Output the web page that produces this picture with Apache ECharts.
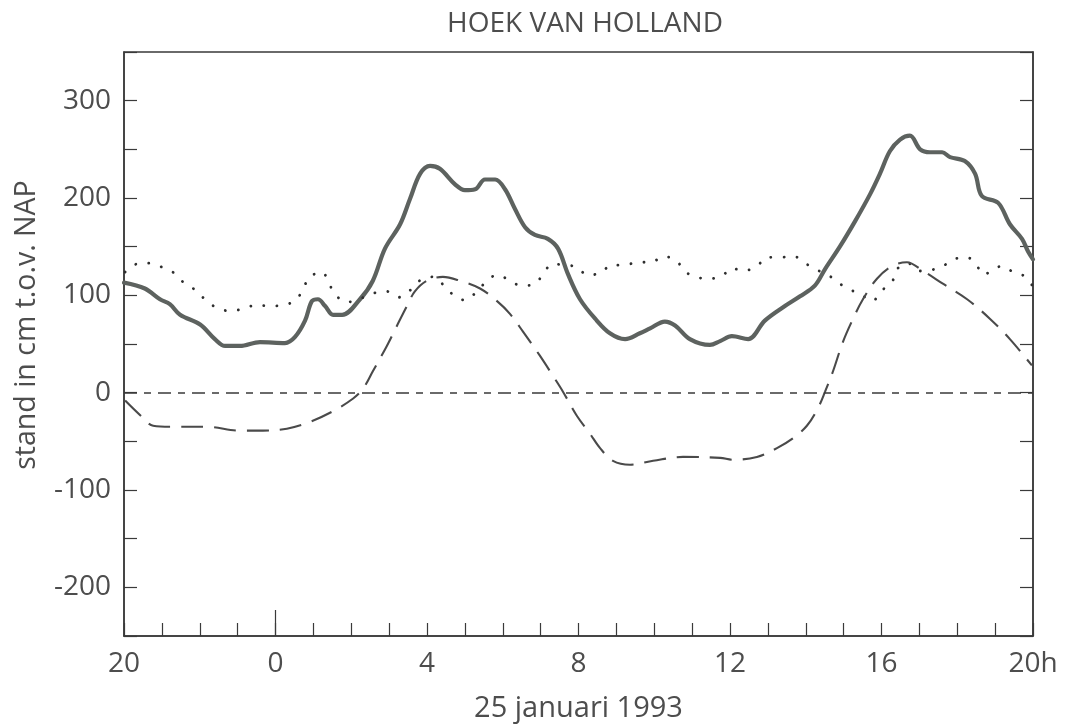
<!DOCTYPE html>
<html>
<head>
<meta charset="utf-8">
<script src="https://cdn.jsdelivr.net/npm/echarts@6/dist/echarts.min.js"></script>
<style>html,body{margin:0;padding:0;background:#fff}#c{width:1069px;height:728px}</style>
</head>
<body>
<div id="c"></div>
<script>
// hours relative to 0h on 25 januari 1993 (-4 = 20h on the 24th)
var solidHours = [-4.0,-3.45,-3.05,-2.79,-2.52,-1.99,-1.60,-1.33,-0.94,-0.41,0.25,0.51,0.78,0.96,1.12,1.31,1.52,1.76,2.23,2.57,2.89,3.29,3.55,3.82,4.08,4.34,4.74,5.00,5.27,5.53,5.80,6.06,6.32,6.59,6.85,7.19,7.46,7.72,8.04,8.44,8.83,9.23,9.62,9.89,10.28,10.55,10.94,11.47,11.74,12.05,12.48,12.92,13.45,13.85,14.24,14.51,14.90,15.30,15.70,15.96,16.22,16.49,16.75,17.02,17.28,17.60,17.81,18.20,18.47,18.65,19.08,19.39,19.71,19.87,20.0];
var solidValues = [113,107,96,91,80,70,55,48,48,52,51,57,74,94,96,89,80,80,96,115,148,173,199,225,233,230,214,208,209,219,219,209,189,170,162,158,148,122,96,76,61,55,61,66,73,69,55,49,53,58,55,74,89,99,110,127,150,176,204,225,248,260,264,250,247,247,242,238,225,202,195,173,158,145,137];

var dottedHours = [-3.97,-3.68,-3.34,-3.00,-2.68,-2.42,-2.10,-1.84,-1.54,-1.20,-0.86,-0.51,-0.17,0.20,0.54,0.73,0.91,1.23,1.41,1.62,1.89,2.20,2.57,2.94,3.26,3.58,3.84,4.16,4.45,4.71,5.00,5.32,5.56,5.85,6.16,6.48,6.80,7.06,7.30,7.96,8.22,8.59,8.86,9.20,9.57,9.91,10.26,10.60,10.79,11.10,11.42,11.79,12.05,12.34,12.71,12.98,13.32,13.69,13.98,14.30,14.59,14.85,15.17,15.49,15.75,16.01,16.28,16.41,16.70,16.99,17.31,17.62,17.91,18.26,18.52,18.71,18.94,19.21,19.47,19.76,20.0];
var dottedValues = [124,132,133,129,123,113,105,95,87,84,86,90,89,90,95,107,119,124,112,99,93,96,102,104,98,106,116,119,110,100,95,104,114,121,116,110,111,121,132,129,121,123,131,131,134,134,140,135,125,119,117,120,128,125,130,139,139,140,133,126,121,113,106,100,94,105,114,127,133,125,126,130,137,139,130,121,127,130,124,120,109];

var dashedHours = [-3.97,-3.52,-3.23,-2.73,-1.81,-0.94,-0.33,0.30,0.91,1.52,2.05,2.31,2.57,2.94,3.21,3.47,3.68,4.00,4.42,4.87,5.40,5.85,6.19,6.53,6.98,7.33,7.59,7.96,8.30,8.57,8.91,9.36,9.97,10.76,11.74,12.08,12.71,13.24,13.66,14.03,14.32,14.51,14.72,14.98,15.25,15.51,15.88,16.28,16.67,17.10,17.62,18.26,18.86,19.39,19.97];
var dashedValues = [-8,-25,-34,-35,-35,-39,-39,-37,-30,-19,-6,4,22,48,69,89,104,115,119,115,107,94,81,63,38,17,1,-24,-42,-57,-70,-74,-70,-66,-67,-69,-66,-57,-47,-34,-16,1,22,52,76,96,117,130,134,125,112,96,76,55,28];

var yTickLabels = [-200,-100,0,100,200,300];

function pairs(h, v){ return h.map(function(x,i){ return [x, v[i]]; }); }

var chart = echarts.init(document.getElementById('c'), null, {renderer:'canvas'});
var font = '"Open Sans", "Noto Sans", sans-serif';
var txt = '#4d4d4d';
var axisCol = '#3a3a3a';

chart.setOption({
  animation: false,
  backgroundColor: '#ffffff',
  title: {
    text: 'HOEK VAN HOLLAND',
    left: 580, top: 5, textAlign: 'center',
    textStyle: {fontFamily: font, fontSize: 28, fontWeight: 'normal', color: txt}
  },
  grid: {left: 124, right: 36, top: 52, bottom: 90, show: true, borderColor: axisCol, borderWidth: 1.5, backgroundColor: 'transparent'},
  xAxis: [{
    type: 'value', min: -4, max: 20, interval: 1,
    axisLine: {show: true, onZero: false, lineStyle: {color: axisCol, width: 1.5}},
    axisTick: {show: true, inside: true, length: 13, lineStyle: {color: axisCol, width: 1.2}},
    splitLine: {show: false},
    axisLabel: {
      margin: 14, fontFamily: font, fontSize: 28, color: txt,
      formatter: function(v){
        if (v % 4 !== 0) return '';
        if (v === 20) return '20h';
        return String(v < 0 ? v + 24 : v);
      }
    },
    name: '25 januari 1993', nameLocation: 'middle', nameGap: 58,
    nameTextStyle: {fontFamily: font, fontSize: 29, color: txt}
  }, {
    type: 'value', min: -4, max: 20, position: 'bottom',
    axisLine: {show: false, onZero: false},
    axisTick: {show: true, inside: true, length: 26, customValues: [0], lineStyle: {color: axisCol, width: 1.2}},
    axisLabel: {show: false},
    splitLine: {show: false}
  }],
  yAxis: [{
    type: 'value', min: -250, max: 350, interval: 50,
    axisLine: {show: true, onZero: false, lineStyle: {color: axisCol, width: 1.5}},
    axisTick: {show: true, inside: true, length: 13, lineStyle: {color: axisCol, width: 1.2}},
    splitLine: {show: false},
    axisLabel: {
      margin: 13, fontFamily: font, fontSize: 28, color: txt,
      formatter: function(v){ return yTickLabels.indexOf(v) >= 0 ? String(v) : ''; }
    }
  }, {
    type: 'value', min: -250, max: 350, interval: 50, position: 'right',
    axisLine: {show: true, onZero: false, lineStyle: {color: axisCol, width: 1.5}},
    axisTick: {show: true, inside: true, length: 13, lineStyle: {color: axisCol, width: 1.2}},
    axisLabel: {show: false},
    splitLine: {show: false}
  }],
  graphic: [{
    type: 'text', x: 27, y: 325, rotation: Math.PI / 2,
    style: {text: 'stand in cm t.o.v. NAP', fontFamily: font, fontSize: 28.5, fill: txt, textAlign: 'center', textVerticalAlign: 'middle'}
  }],
  series: [{
    type: 'line', name: 'nul', data: [],
    markLine: {
      silent: true, symbol: 'none', label: {show: false},
      lineStyle: {color: '#3a3a3a', width: 1.5, type: [13, 7, 7, 7]},
      data: [{yAxis: 0}]
    }
  }, {
    type: 'line', name: 'gemeten', data: pairs(solidHours, solidValues),
    smooth: 0.35, showSymbol: false,
    lineStyle: {color: '#5d625f', width: 4.2, cap: 'round', join: 'round'}
  }, {
    type: 'line', name: 'verwacht', data: pairs(dottedHours, dottedValues),
    smooth: 0.35, showSymbol: false,
    lineStyle: {color: '#2e2e2e', width: 2.8, type: [0.1, 13], cap: 'round'}
  }, {
    type: 'line', name: 'opzet', data: pairs(dashedHours, dashedValues),
    smooth: 0.35, showSymbol: false,
    lineStyle: {color: '#4a4a4a', width: 2.1, type: [22, 11]}
  }]
});
</script>
</body>
</html>
